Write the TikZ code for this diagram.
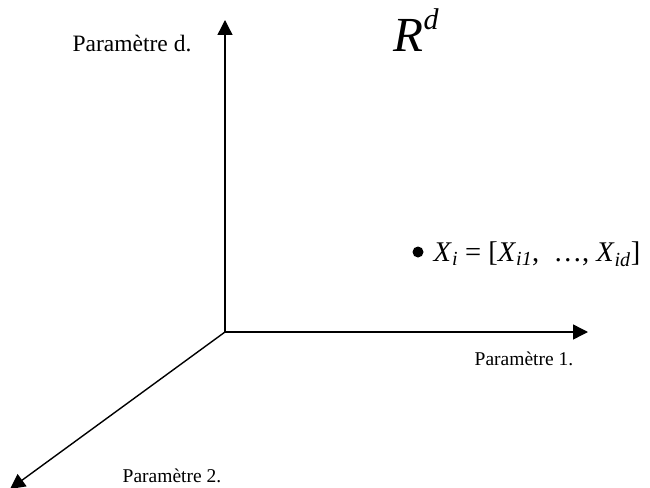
\documentclass[tikz,border=0pt]{standalone}
\usepackage{fontspec}
\setmainfont{Liberation Serif}
\usetikzlibrary{arrows.meta,positioning}

\begin{document}
\begin{tikzpicture}[x=1pt,y=-1pt,line width=1.4pt,
   >={Triangle[length=15pt,width=15pt]},
   lbl/.style={inner sep=0pt,font=\fontsize{19.5}{23}\selectfont},
   dot/.style={circle,fill,inner sep=0pt,minimum size=11pt}]
 \useasboundingbox (0,0) rectangle (650,487);
 \coordinate (O) at (225,332);
 \coordinate (Ad) at (225,20);
 \coordinate (A1) at (588,332);
 \coordinate (A2) at (10,489);
 % axes
 \draw[->] (O) -- (Ad);
 \draw[->] (O) -- (A1);
 \draw[->] (O) -- (A2);
 % labels
 \node[lbl,anchor=base,font=\fontsize{23.5}{27}\selectfont] (labd) at (132,52) {Paramètre d.};
 \node[lbl,anchor=base west] (lab1) at (474,365) {Paramètre 1.};
 \node[lbl,anchor=base west] (lab2) at (122,482) {Paramètre 2.};
 \node[inner sep=0pt,anchor=base west,font=\fontsize{49}{52}\selectfont\itshape] (Rd) at (393,52)
   {R\raisebox{0.46em}{\fontsize{30}{32}\selectfont d}};
 % point
 \node[dot] (pt) at (418,252) {};
 \node[inner sep=0pt,anchor=base west,font=\fontsize{28.5}{33}\selectfont] (Xi) at (433,261)
   {\textit{X}\textsubscript{\textit{i}} = [\textit{X}\textsubscript{\textit{i1}},\ \ …,\ \textit{X}\textsubscript{\textit{id}}]};
\end{tikzpicture}
\end{document}
